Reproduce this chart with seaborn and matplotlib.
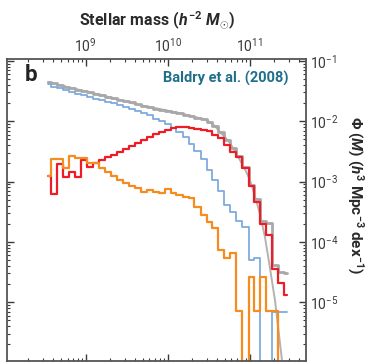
import numpy as np
import pandas as pd
import matplotlib
matplotlib.use("Agg")
import matplotlib.pyplot as plt
import seaborn as sns
from matplotlib.ticker import LogLocator, NullFormatter, FixedLocator

# Bin centres, log10 stellar mass (h^-2 Msun)
log_mass = [8.54, 8.61, 8.69, 8.76, 8.83, 8.90, 8.98, 9.05, 9.12, 9.20,
            9.27, 9.34, 9.41, 9.49, 9.56, 9.63, 9.71, 9.78, 9.85, 9.93,
            10.00, 10.07, 10.14, 10.22, 10.29, 10.36, 10.44, 10.51, 10.58, 10.65,
            10.73, 10.80, 10.87, 10.95, 11.02, 11.09, 11.16, 11.24, 11.31, 11.38,
            11.46]

# log10 Phi (h^3 Mpc^-3 dex^-1); None marks an empty bin
log_phi_all = [-1.352, -1.368, -1.401, -1.434, -1.451, -1.484, -1.501, -1.517, -1.551, -1.567,
               -1.600, -1.617, -1.650, -1.667, -1.683, -1.716, -1.750, -1.766, -1.799, -1.816,
               -1.833, -1.849, -1.866, -1.899, -1.916, -1.949, -1.965, -2.015, -2.081, -2.181,
               -2.313, -2.446, -2.579, -2.761, -3.060, -3.292, -3.657, -3.690, -4.386, -4.502,
               -4.519]
log_phi_blue = [-1.385, -1.434, -1.451, -1.484, -1.517, -1.551, -1.567, -1.600, -1.634, -1.650,
                -1.683, -1.700, -1.733, -1.766, -1.799, -1.833, -1.866, -1.899, -1.965, -1.998,
                -2.048, -2.114, -2.181, -2.264, -2.380, -2.496, -2.629, -2.811, -2.977, -3.159,
                -3.391, -3.507, -3.657, -3.756, -4.303, -4.270, None, None, -5.166, -5.166,
                -5.166]
log_phi_red = [-2.910, -3.209, -2.712, -2.927, -2.844, -2.927, -2.645, -2.761, -2.695, -2.645,
               -2.595, -2.562, -2.512, -2.463, -2.413, -2.363, -2.313, -2.264, -2.214, -2.181,
               -2.148, -2.114, -2.098, -2.098, -2.114, -2.131, -2.148, -2.164, -2.231, -2.280,
               -2.396, -2.512, -2.595, -2.778, -3.076, -3.342, -3.706, -3.889, -4.453, -4.685,
               -4.884]
log_phi_orange = [-2.910, -2.629, -2.629, -2.778, -2.579, -2.612, -2.612, -2.695, -2.695, -2.778,
                  -2.844, -2.910, -2.977, -3.027, -3.076, -3.109, -3.176, -3.143, -3.176, -3.192,
                  -3.126, -3.192, -3.226, -3.259, -3.275, -3.425, -3.557, -3.673, -3.773, -4.138,
                  -4.270, -4.187, -5.149, None, -4.585, -5.149, -4.585, -5.149, -5.149, None,
                  None]

# Smooth fitted mass function
fit_log_mass = [8.540, 8.809, 9.089, 9.382, 9.662, 9.906, 10.089, 10.272, 10.479, 10.577,
                10.638, 10.699, 10.760, 10.821, 10.882, 10.943, 11.004, 11.065, 11.126, 11.187,
                11.248, 11.309, 11.370, 11.400]
fit_log_phi = [-1.352, -1.443, -1.534, -1.633, -1.733, -1.799, -1.849, -1.907, -1.982, -2.081,
               -2.181, -2.264, -2.363, -2.496, -2.645, -2.794, -2.977, -3.242, -3.541, -3.922,
               -4.436, -4.967, -5.680, -6.028]

# Labelled decades on each axis
x_decades = [1e9, 1e10, 1e11]
y_decades = [1e-1, 1e-2, 1e-3, 1e-4, 1e-5]

sns.set_theme(style="ticks")
plt.rcParams["font.family"] = ["Roboto", "DejaVu Sans"]
plt.rcParams["mathtext.fontset"] = "custom"
plt.rcParams["mathtext.rm"] = "Roboto:bold"
plt.rcParams["mathtext.it"] = "Roboto:bold:italic"
plt.rcParams["mathtext.bf"] = "Roboto:bold"

FLOOR = 1e-9  # empty bins drop below the axis


def to_frame(lm, lp):
    phi = np.array([10.0 ** v if v is not None else FLOOR for v in lp])
    return pd.DataFrame({"mass": 10.0 ** np.array(lm), "phi": phi})


fig = plt.figure(figsize=(3.79, 3.62), dpi=100)
ax = fig.add_axes([0.0193, 0.0028, 0.788, 0.834])
ax.set_xscale("log")
ax.set_yscale("log")

fit_df = to_frame(fit_log_mass, fit_log_phi)
sns.lineplot(data=fit_df, x="mass", y="phi", ax=ax, color="#b3b3b3", lw=1.4,
             estimator=None, sort=False)

series = [
    (log_phi_all, "#a8a8a8", 2.0),
    (log_phi_blue, "#7eaadf", 1.3),
    (log_phi_red, "#ee1d25", 1.6),
    (log_phi_orange, "#f68b1f", 1.6),
]
for vals, col, lw in series:
    sns.lineplot(data=to_frame(log_mass, vals), x="mass", y="phi", ax=ax,
                 color=col, lw=lw, drawstyle="steps-mid", estimator=None, sort=False)

ax.set_xlim(10 ** 8.044, 10 ** 11.687)
ax.set_ylim(10 ** -5.975, 10 ** -0.970)

ax.xaxis.set_major_locator(FixedLocator(x_decades))
ax.xaxis.set_minor_locator(LogLocator(base=10, subs=np.arange(2, 10), numticks=20))
ax.xaxis.set_minor_formatter(NullFormatter())
ax.yaxis.set_major_locator(FixedLocator(y_decades))
ax.yaxis.set_minor_locator(LogLocator(base=10, subs=np.arange(2, 10), numticks=20))
ax.yaxis.set_minor_formatter(NullFormatter())

ax.tick_params(which="both", direction="in", top=True, bottom=True, left=True, right=True,
               labeltop=True, labelbottom=False, labelleft=False, labelright=True,
               colors="#3a3a3a", labelcolor="#3a3a3a", labelsize=10, pad=3)
ax.tick_params(which="major", length=5, width=1.0)
ax.tick_params(which="minor", length=2.5, width=0.8)
for sp in ax.spines.values():
    sp.set_color("#555555")
    sp.set_linewidth(1.3)

ax.xaxis.set_label_position("top")
ax.set_xlabel(r"Stellar mass ($h^{-2}\ M_{\odot}$)", fontsize=11.5, fontweight="bold",
              color="#2a2a2a", labelpad=8)
ax.yaxis.set_label_position("right")
ax.set_ylabel(r"Φ ($M$) ($h^{3}$ Mpc$^{-3}$ dex$^{-1}$)", fontsize=11, fontweight="bold",
              color="#2a2a2a", rotation=270)
ax.yaxis.set_label_coords(1.2, 0.55)

ax.text(0.059, 0.947, "b", transform=ax.transAxes, fontsize=16, fontweight="bold",
        color="#222222", ha="left", va="center")
ax.text(0.94, 0.937, "Baldry et al. (2008)", transform=ax.transAxes, fontsize=10.5,
        fontweight="bold", color="#1f6f8b", ha="right", va="center")

fig.savefig("out.png", dpi=100)
